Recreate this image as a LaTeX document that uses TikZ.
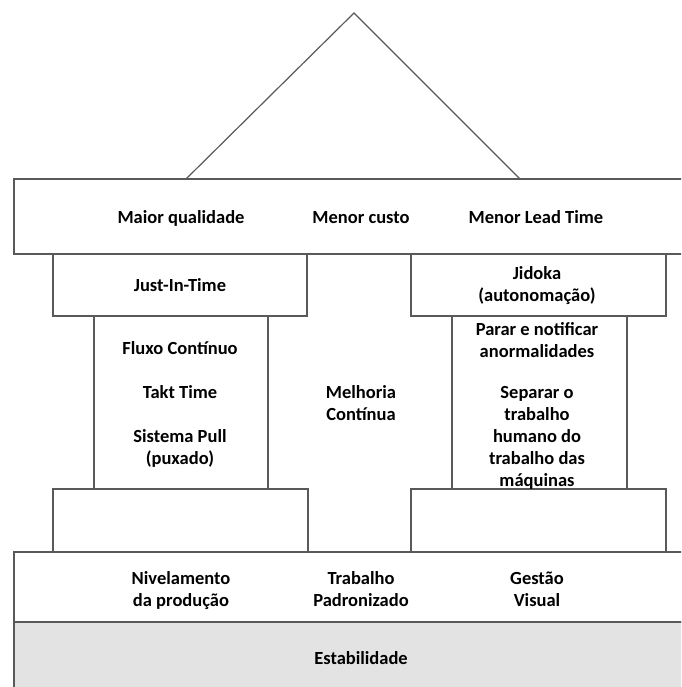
\documentclass[tikz,border=0pt]{standalone}
\usepackage{fontspec}
\setmainfont{Carlito}
\begin{document}
\begin{tikzpicture}[x=1pt,y=-1pt,
  edge/.style={draw=black!65,line width=1.1pt},
  part/.style={edge,fill=white},
  lbl/.style={font=\fontsize{18.5}{22}\selectfont\bfseries,align=center,inner sep=0pt,text=black,anchor=base}]
\useasboundingbox (0,0) rectangle (681,687);
\clip (0,0) rectangle (681,687);
% roof
\draw[edge,line width=1.2pt] (186,179) -- (354,13) -- (520,179);
\draw[part] (14,179) rectangle (700,254);
% pillars: caps, shafts, bases
\draw[part] (53,254) rectangle (307,316);
\draw[part] (411,254) rectangle (666,316);
\draw[part] (94,316) rectangle (268,489);
\draw[part] (452,316) rectangle (627,489);
\draw[part] (53,489) rectangle (308,552);
\draw[part] (411,489) rectangle (666,552);
% foundation
\draw[part] (14,552) rectangle (700,622);
\draw[edge,fill=black!11] (14,622) rectangle (700,700);
% labels (positions are last-line baselines)
\node[lbl] (q) at (181,223) {Maior qualidade};
\node[lbl] (c) at (361,223) {Menor custo};
\node[lbl] (lt) at (536,223) {Menor Lead Time};
\node[lbl] (jit) at (180,291) {Just-In-Time};
\node[lbl] (jid) at (537,301) {Jidoka\\(autonomação)};
\node[lbl] (fc) at (180,354) {Fluxo Contínuo};
\node[lbl] (tt) at (180,398) {Takt Time};
\node[lbl] (sp) at (180,464) {Sistema Pull\\(puxado)};
\node[lbl] (mc) at (361,420) {Melhoria\\Contínua};
\node[lbl] (pn) at (537,357) {Parar e notificar\\anormalidades};
\node[lbl] (sep) at (537,486) {Separar o\\trabalho\\humano do\\trabalho das\\máquinas};
\node[lbl] (nv) at (181,606) {Nivelamento\\da produção};
\node[lbl] (tp) at (361,606) {Trabalho\\Padronizado};
\node[lbl] (gv) at (537,606) {Gestão\\Visual};
\node[lbl] (est) at (361,664) {Estabilidade};
\end{tikzpicture}
\end{document}
